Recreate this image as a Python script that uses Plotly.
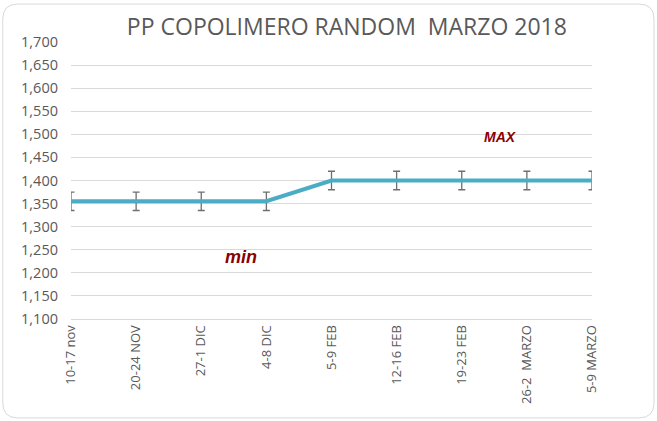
import plotly.graph_objects as go

categories = ["10-17 nov", "20-24 NOV", "27-1 DIC", "4-8 DIC", "5-9 FEB",
              "12-16 FEB", "19-23 FEB", "26-2  MARZO", "5-9 MARZO"]
prices = [1355, 1355, 1355, 1355, 1400, 1400, 1400, 1400, 1400]
errors = [20, 20, 20, 20, 20, 20, 20, 20, 20]
y_ticks = [1100, 1150, 1200, 1250, 1300, 1350, 1400, 1450, 1500, 1550, 1600, 1650, 1700]

fig = go.Figure()
fig.add_trace(go.Scatter(
    x=categories, y=prices, mode="lines",
    line=dict(color="#4bacc6", width=4),
    error_y=dict(type="data", array=errors, visible=True,
                 color="#6f6f6f", thickness=1.3, width=3.5),
    cliponaxis=False,
))

fig.add_annotation(x=2.61, y=1234, xref="x", yref="y", text="<b><i>min</i></b>",
                   showarrow=False, font=dict(family="Liberation Sans", size=18, color="#8b0000"))
fig.add_annotation(x=6.59, y=1494, xref="x", yref="y", text="<b><i>MAX</i></b>",
                   showarrow=False, font=dict(family="Liberation Sans", size=14, color="#8b0000"))

# rounded outer border of the chart area
fig.add_shape(type="path", xref="paper", yref="paper",
              path=("M -0.102,1.137 L 1.090,1.137 Q 1.119,1.137 1.119,1.083 "
                    "L 1.119,-0.303 Q 1.119,-0.357 1.090,-0.357 "
                    "L -0.102,-0.357 Q -0.131,-0.357 -0.131,-0.303 "
                    "L -0.131,1.083 Q -0.131,1.137 -0.102,1.137 Z"),
              line=dict(color="#d9d9d9", width=1), layer="below")

fig.update_layout(
    width=657, height=421,
    margin=dict(l=71, r=65, t=42, b=102),
    paper_bgcolor="white", plot_bgcolor="white",
    showlegend=False,
    title=dict(text="PP COPOLIMERO RANDOM  MARZO 2018", x=0.528, xanchor="center",
               y=0.935, yanchor="middle",
               font=dict(family="Open Sans", size=23, color="#595959")),
    font=dict(family="Open Sans", color="#595959"),
)
fig.update_xaxes(type="category", range=[0, 8], tickangle=-90,
                 tickfont=dict(size=13, color="#595959"),
                 showgrid=False, showline=True, linecolor="#d9d9d9", ticks="",
                 ticklabelstandoff=0)
fig.update_yaxes(range=[1100, 1700], tickvals=y_ticks, tickformat=",",
                 tickfont=dict(size=14.5, color="#595959"),
                 showgrid=True, gridcolor="#d9d9d9", gridwidth=1,
                 zeroline=False, ticks="", ticklabelstandoff=12)

fig.write_html("out.html", config={"displayModeBar": False},
               post_script="document.body.style.margin='0';")
